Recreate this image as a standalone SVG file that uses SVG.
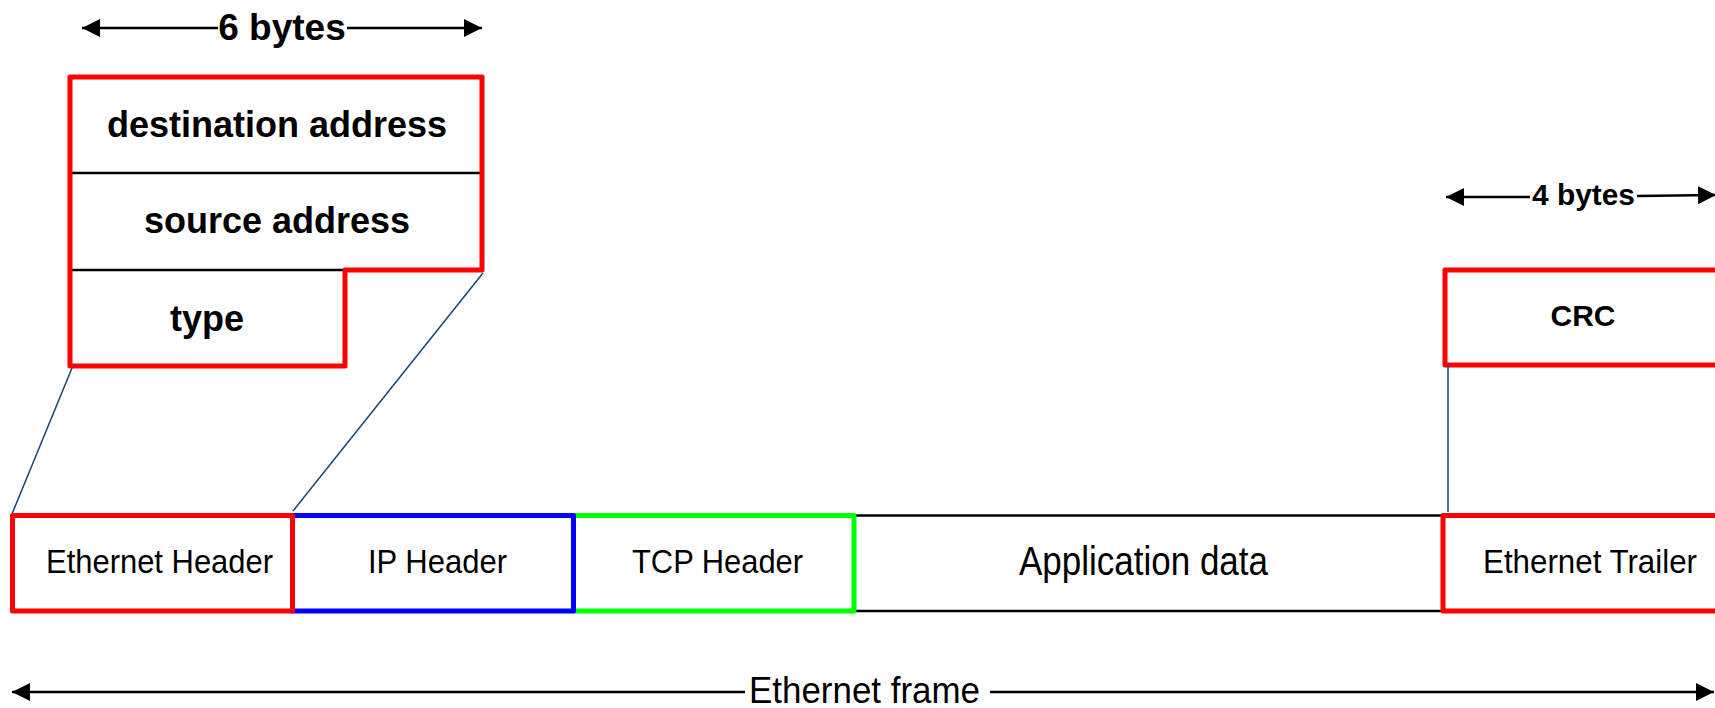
<svg xmlns="http://www.w3.org/2000/svg" width="1715" height="708" viewBox="0 0 1715 708">
<style>
.bold{font-family:"Liberation Sans",Arial,sans-serif;font-weight:bold;fill:#000}
.reg{font-family:"Liberation Sans",Arial,sans-serif;fill:#000}
.red{fill:none;stroke:#ff0000;stroke-width:5;stroke-linejoin:round}
.blue{fill:none;stroke:#0000ff;stroke-width:5;stroke-linejoin:round}
.green{fill:none;stroke:#00ff00;stroke-width:5;stroke-linejoin:round}
.div{stroke:#000;stroke-width:2.5}
.dim{stroke:#000;stroke-width:2.5;fill:none}
.conn{stroke:#1a4373;stroke-width:1.5;fill:none}
</style>
<defs>
<marker id="ah" viewBox="0 0 18 18" refX="18" refY="9" markerWidth="18" markerHeight="18" markerUnits="userSpaceOnUse" orient="auto">
<path d="M0,0 L18,9 L0,18 Z" fill="#000"/>
</marker>
</defs>
<rect width="1715" height="708" fill="#fff"/>

<g id="header-detail">
<line class="div" x1="72" y1="173" x2="480" y2="173"/>
<line class="div" x1="72" y1="270" x2="345" y2="270"/>
<path class="red" d="M70,77 H482 V270 H345 V366 H70 Z"/>
<text class="bold" x="277" y="137" font-size="36" text-anchor="middle">destination address</text>
<text class="bold" x="277" y="233" font-size="36" text-anchor="middle">source address</text>
<text class="bold" x="207" y="331" font-size="36" text-anchor="middle">type</text>
</g>

<g id="six-bytes">
<line class="dim" x1="218" y1="28" x2="82" y2="28" marker-end="url(#ah)"/>
<line class="dim" x1="347" y1="28" x2="482" y2="28" marker-end="url(#ah)"/>
<text class="bold" x="282" y="40" font-size="37" text-anchor="middle">6 bytes</text>
</g>

<g id="crc">
<path class="red" d="M1740,270 H1445 V365 H1740"/>
<text class="bold" x="1583" y="326" font-size="30" text-anchor="middle">CRC</text>
</g>

<g id="four-bytes">
<line class="dim" x1="1530" y1="197" x2="1446" y2="197" marker-end="url(#ah)"/>
<line class="dim" x1="1637" y1="196" x2="1716" y2="195" marker-end="url(#ah)"/>
<text class="bold" x="1532" y="205" font-size="29" textLength="103" lengthAdjust="spacingAndGlyphs">4 bytes</text>
</g>

<g id="connectors">
<line class="conn" x1="72" y1="368" x2="12" y2="514"/>
<line class="conn" x1="483" y1="273" x2="293" y2="511"/>
<line class="conn" x1="1448" y1="365" x2="1448" y2="512"/>
</g>

<g id="application-data">
<line class="div" x1="854" y1="515.5" x2="1443" y2="515.5"/>
<line class="div" x1="854" y1="611" x2="1443" y2="611"/>
<text class="reg" x="1019" y="575" font-size="40" textLength="249" lengthAdjust="spacingAndGlyphs">Application data</text>
</g>

<g id="tcp-header">
<rect class="green" x="573.5" y="515.5" width="280.5" height="95.5"/>
<text class="reg" x="632" y="573" font-size="33" textLength="171" lengthAdjust="spacingAndGlyphs">TCP Header</text>
</g>

<g id="ip-header">
<rect class="blue" x="292.5" y="515.5" width="281" height="95.5"/>
<text class="reg" x="368" y="573" font-size="33" textLength="139" lengthAdjust="spacingAndGlyphs">IP Header</text>
</g>

<g id="ethernet-header">
<rect class="red" x="12.5" y="515.5" width="280" height="95.5"/>
<text class="reg" x="46" y="573" font-size="33" textLength="227" lengthAdjust="spacingAndGlyphs">Ethernet Header</text>
</g>

<g id="ethernet-trailer">
<rect class="red" x="1443" y="515.5" width="320" height="95.5"/>
<text class="reg" x="1483" y="573" font-size="33" textLength="214" lengthAdjust="spacingAndGlyphs">Ethernet Trailer</text>
</g>

<g id="ethernet-frame">
<line class="dim" x1="745" y1="692" x2="12" y2="692" marker-end="url(#ah)"/>
<line class="dim" x1="990" y1="692" x2="1714" y2="692" marker-end="url(#ah)"/>
<text class="reg" x="749" y="703" font-size="36" textLength="231" lengthAdjust="spacingAndGlyphs">Ethernet frame</text>
</g>
</svg>
